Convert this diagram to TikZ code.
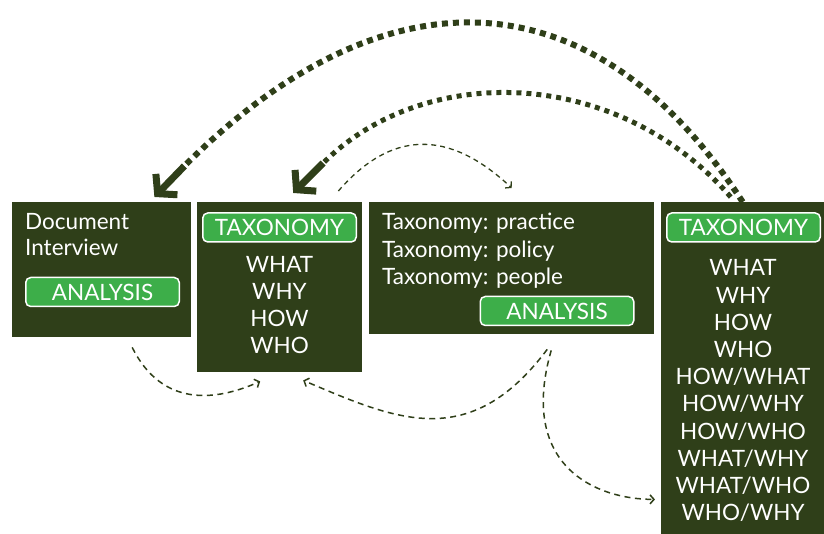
\documentclass[tikz,border=0pt]{standalone}
\usepackage{fontspec}
\setmainfont{Lato}
\usetikzlibrary{arrows.meta,positioning}
\definecolor{boxgreen}{RGB}{47,63,25}
\definecolor{pillgreen}{RGB}{61,174,73}

\begin{document}
\begin{tikzpicture}[x=1pt,y=1pt]
	\tikzset{panel/.style={fill=boxgreen, anchor=north west, inner sep=0pt}}
	\tikzset{pill/.style={fill=pillgreen, draw=white, line width=1.5pt, rounded corners=5pt, inner sep=0pt, text=white, font=\fontsize{22.5}{22.5}\selectfont, minimum width=153.5pt, minimum height=29pt}}
	\tikzset{word/.style={text=white, inner sep=0pt, anchor=base, font=\fontsize{22.5}{22.5}\selectfont}}
	\tikzset{textline/.style={word, anchor=base west}}
	\tikzset{bigdots/.style={boxgreen, line width=6pt, dash pattern=on 6pt off 5pt}}
	\tikzset{middots/.style={boxgreen, line width=5pt, dash pattern=on 5pt off 5pt}}
	\tikzset{bighead/.style={boxgreen, line width=7pt, -{Straight Barb[length=13pt,width=30pt,sharp]}}}
	\tikzset{flow/.style={boxgreen, line width=1.5pt, dash pattern=on 6pt off 4.5pt, -{Straight Barb[length=4pt,width=9pt]}}}
	\tikzset{thinflow/.style={flow, line width=1.3pt, dash pattern=on 5pt off 4pt}}

	\useasboundingbox (0,0) rectangle (824,534);

	\node[panel, minimum width=179pt, minimum height=135pt] (doc) at (12,332) {};
	\node[panel, minimum width=165pt, minimum height=170pt] (tax) at (197,332) {};
	\node[panel, minimum width=285pt, minimum height=132pt] (anl) at (369,332) {};
	\node[panel, minimum width=163pt, minimum height=332pt] (full) at (661,332) {};

	\node[textline] (document) at (25,304) {Document};
	\node[textline] (interview) at ([yshift=-26pt]document.base west) {Interview};
	\node[pill] (docpill) at (102.5,242) {ANALYSIS};

	\node[pill] (taxpill) at (279.5,306.5) {TAXONOMY};
	\node[word] (what) at (279.5,261) {WHAT};
	\node[word] (why) at ([yshift=-27pt]what.base) {WHY};
	\node[word] (how) at ([yshift=-27pt]why.base) {HOW};
	\node[word] (who) at ([yshift=-27pt]how.base) {WHO};

	\node[textline] (practice) at (382,304) {Taxonomy: practice};
	\node[textline] (policy) at ([yshift=-27.5pt]practice.base west) {Taxonomy: policy};
	\node[textline] (people) at ([yshift=-27.5pt]policy.base west) {Taxonomy: people};
	\node[pill] (anlpill) at (557,223) {ANALYSIS};

	\node[pill] (fullpill) at (743.5,306.5) {TAXONOMY};
	\node[word] (fwhat) at (743,258) {WHAT};
	\node[word] (fwhy) at ([yshift=-27.2pt]fwhat.base) {WHY};
	\node[word] (fhow) at ([yshift=-27.2pt]fwhy.base) {HOW};
	\node[word] (fwho) at ([yshift=-27.2pt]fhow.base) {WHO};
	\node[word] (howwhat) at ([yshift=-27.2pt]fwho.base) {HOW/WHAT};
	\node[word] (howwhy) at ([yshift=-27.2pt]howwhat.base) {HOW/WHY};
	\node[word] (howwho) at ([yshift=-27.2pt]howwhy.base) {HOW/WHO};
	\node[word] (whatwhy) at ([yshift=-27.2pt]howwho.base) {WHAT/WHY};
	\node[word] (whatwho) at ([yshift=-27.2pt]whatwhy.base) {WHAT/WHO};
	\node[word] (whowhy) at ([yshift=-27.2pt]whatwho.base) {WHO/WHY};

	\coordinate (back1) at ([xshift=-37pt,yshift=5pt]doc.north east);
	\coordinate (bend1) at ([xshift=30pt,yshift=31pt]back1);
	\coordinate (back2) at ([xshift=13.5pt,yshift=9pt]tax.north);
	\coordinate (bend2) at ([xshift=30pt,yshift=30pt]back2);
	\coordinate (from2) at ([xshift=-12pt,yshift=5pt]full.north);
	\draw[bigdots] (full.north) .. controls +(-150,232) and +(198,198) .. (bend1);
	\draw[bighead] (bend1) -- (back1);
	\draw[middots] (from2) .. controls +(-115,132) and +(100,100) .. (bend2);
	\draw[bighead] (bend2) -- (back2);

	\coordinate (top1) at ([xshift=-24pt,yshift=11pt]tax.north east);
	\coordinate (top2) at ([yshift=14pt]anl.north);
	\draw[thinflow] (top1) .. controls +(52,60) and +(-64,60) .. (top2);

	\coordinate (low1) at ([xshift=30.5pt,yshift=-10pt]doc.south);
	\coordinate (low2) at ([xshift=-19.5pt,yshift=-9pt]tax.south);
	\coordinate (low3) at ([xshift=35.5pt,yshift=-15pt]anl.south);
	\coordinate (low4) at ([xshift=23.5pt,yshift=-8pt]tax.south);
	\coordinate (low5) at ([xshift=39.5pt,yshift=-16pt]anl.south);
	\coordinate (low6) at ([xshift=-6pt,yshift=35pt]full.south west);
	\draw[flow] (low1) .. controls +(30,-60) and +(-45,-20) .. (low2);
	\draw[flow] (low3) .. controls +(-78,-104) and +(92,-39) .. (low4);
	\draw[flow] (low5) .. controls +(-33,-115) and +(-60,0) .. (low6);
\end{tikzpicture}
\end{document}
